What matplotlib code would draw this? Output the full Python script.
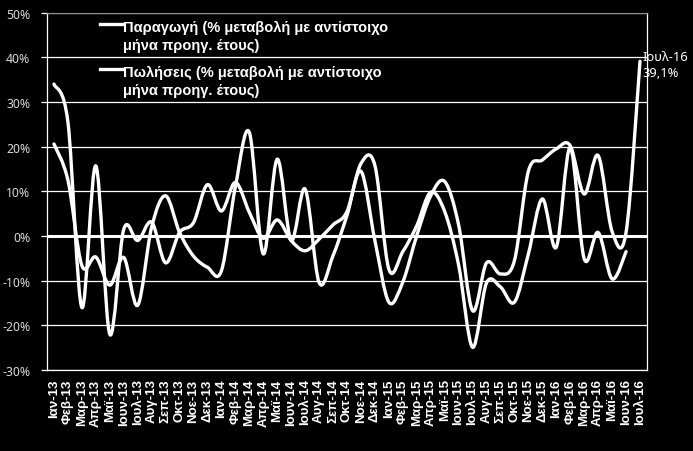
import matplotlib.pyplot as plt
from matplotlib.lines import Line2D
from matplotlib.path import Path
from matplotlib.patches import PathPatch

plt.rcParams["font.family"] = ["Noto Sans", "DejaVu Sans"]
BOLD_FAMILY = ["Liberation Sans", "DejaVu Sans"]

MONTHS = ["Ιαν", "Φεβ", "Μαρ", "Απρ", "Μαϊ", "Ιουν", "Ιουλ", "Αυγ", "Σεπ", "Οκτ", "Νοε", "Δεκ"]
YEARS = ["13", "14", "15", "16"]
LABELS = [f"{m}-{y}" for y in YEARS for m in MONTHS][:43]

LEGEND_PRODUCTION = "Παραγωγή (% μεταβολή με αντίστοιχο\nμήνα προηγ. έτους)"
LEGEND_SALES = "Πωλήσεις (% μεταβολή με αντίστοιχο\nμήνα προηγ. έτους)"

# % change vs same month of previous year
PRODUCTION = [
    20.6, 12.5, -6.6, -4.7, -11.0, -4.8, -15.5, 2.0, 9.0, 0.8, -4.5, -7.0,
    -7.8, 11.0, 23.2, -4.0, 17.2, -1.0, 10.5, -10.4, -4.4, 4.6, 14.5, -1.0,
    -14.8, -10.3, 0.1, 9.0, 12.2, 2.5, -16.7, -6.0, -8.5, -5.5, 14.5, 17.0,
    19.5, 20.2, 9.4, 18.0, 1.0, 0.8, 39.1,
]
SALES = [
    34.0, 25.5, -16.0, 15.7, -22.0, 1.5, -1.0, 3.1, -6.0, 0.8, 3.0, 11.5,
    5.6, 12.0, 5.3, -0.5, 3.6, -1.0, -3.3, -0.7, 2.5, 5.5, 16.2, 15.8,
    -7.4, -3.5, 2.3, 9.8, 5.5, -6.5, -24.9, -10.5, -11.4, -14.8, -4.0, 8.3,
    -2.5, 19.8, -5.1, 0.8, -9.6, -3.5,
]

LAST_LABEL = "Ιουλ-16\n39,1%"


def smooth_path(values):
    # Excel-like smoothed line: cubic bezier segments through every point
    pts = list(enumerate(values))
    verts = [pts[0]]
    codes = [Path.MOVETO]
    n = len(pts)
    for i in range(n - 1):
        p0 = pts[max(i - 1, 0)]
        p1 = pts[i]
        p2 = pts[i + 1]
        p3 = pts[min(i + 2, n - 1)]
        c1 = (p1[0] + (p2[0] - p0[0]) / 6, p1[1] + (p2[1] - p0[1]) / 6)
        c2 = (p2[0] - (p3[0] - p1[0]) / 6, p2[1] - (p3[1] - p1[1]) / 6)
        verts += [c1, c2, p2]
        codes += [Path.CURVE4] * 3
    return Path(verts, codes)


fig = plt.figure(figsize=(6.93, 4.52), dpi=100, facecolor="black")
ax = fig.add_axes([0.0678, 0.179, 0.8658, 0.791], facecolor="black")

for values in (PRODUCTION, SALES):
    ax.add_patch(
        PathPatch(
            smooth_path(values),
            fill=False,
            edgecolor="white",
            linewidth=2.4,
            capstyle="round",
            joinstyle="round",
            zorder=3,
        )
    )

ax.set_xlim(-0.5, len(LABELS) - 0.5)
ax.set_ylim(-30, 50)
ax.set_yticks(range(-30, 51, 10))
ax.set_yticklabels([f"{v}%" for v in range(-30, 51, 10)])
ax.set_xticks(range(len(LABELS)))
ax.set_xticklabels(
    LABELS, rotation=90, fontweight="bold", fontsize=9.5, color="white", family=BOLD_FAMILY
)

ax.grid(axis="y", color="white", linewidth=0.9)
ax.axhline(0, color="white", linewidth=2.2, zorder=2)
ax.set_axisbelow(True)

ax.tick_params(axis="y", colors="white", labelcolor="#d9d9d9", labelsize=8.8, length=4, width=0.9, pad=8)
ax.tick_params(axis="x", length=0, pad=6)
for side in ("left", "right", "bottom"):
    ax.spines[side].set_color("white")
    ax.spines[side].set_linewidth(0.9)
ax.spines["top"].set_color("#8c8c8c")

ax.annotate(
    LAST_LABEL,
    xy=(len(PRODUCTION) - 1, PRODUCTION[-1]),
    xytext=(2, -2),
    textcoords="offset points",
    ha="left",
    va="center",
    color="white",
    fontsize=9.3,
    linespacing=1.3,
    annotation_clip=False,
)

# legend drawn by hand so the key sits on the first text line
for label, y in ((LEGEND_PRODUCTION, 25), (LEGEND_SALES, 70)):
    fig.add_artist(
        Line2D([100 / 693, 122 / 693], [1 - y / 452] * 2, color="white", linewidth=2.4)
    )
    fig.text(
        123 / 693,
        1 - (y - 4) / 452,
        label,
        color="white",
        fontweight="bold",
        fontsize=10.5,
        family=BOLD_FAMILY,
        va="top",
        ha="left",
        linespacing=1.35,
    )

fig.savefig("out.png", facecolor="black")
